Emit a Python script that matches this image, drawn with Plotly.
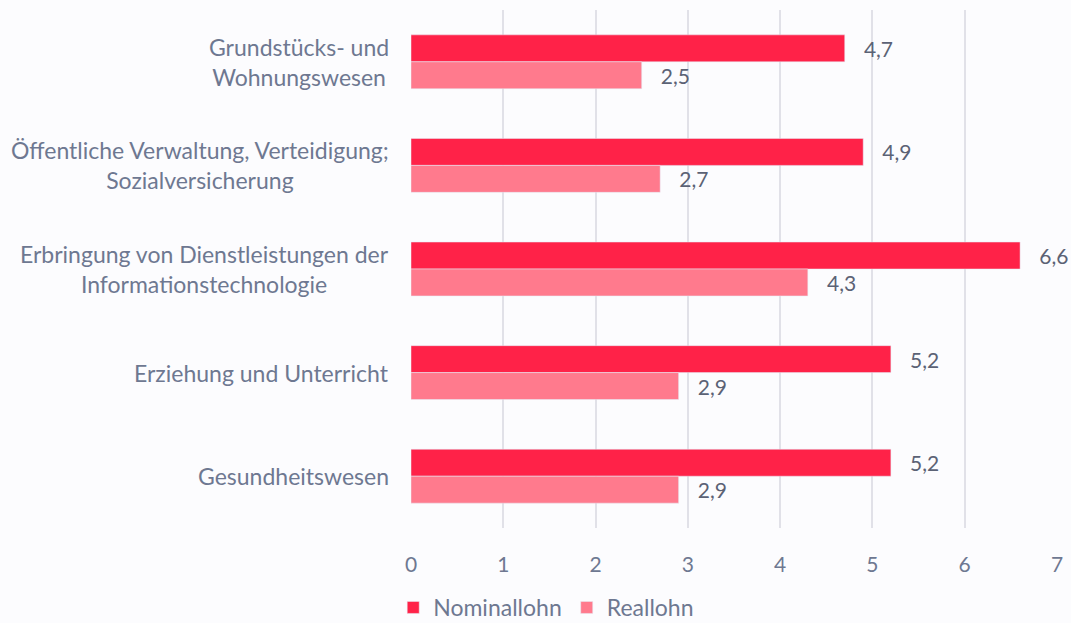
import plotly.graph_objects as go

# Kategorien (von oben nach unten) und Werte
categories = [
    'Grundstücks- und<br>Wohnungswesen',
    'Öffentliche Verwaltung, Verteidigung;<br>Sozialversicherung',
    'Erbringung von Dienstleistungen der<br>Informationstechnologie',
    'Erziehung und Unterricht',
    'Gesundheitswesen',
]
nominallohn = [4.7, 4.9, 6.6, 5.2, 5.2]
reallohn = [2.5, 2.7, 4.3, 2.9, 2.9]
x_ticks = [0, 1, 2, 3, 4, 5, 6, 7]

font_family = 'Lato, Noto Sans, sans-serif'
label_color = '#6E7891'
value_color = '#5B6275'
pad = '\u00a0\u00a0\u00a0'

fig = go.Figure()

fig.add_trace(go.Bar(
    y=categories,
    x=nominallohn,
    orientation='h',
    name='Nominallohn',
    marker=dict(color='#FF2248'),
    texttemplate=pad + '%{x:.1f}',
    textposition='outside',
    textfont=dict(size=21, color=value_color),
    cliponaxis=False,
))

fig.add_trace(go.Bar(
    y=categories,
    x=reallohn,
    orientation='h',
    name='Reallohn',
    marker=dict(color='#FF7A8D'),
    texttemplate=pad + '%{x:.1f}',
    textposition='outside',
    textfont=dict(size=21, color=value_color),
    cliponaxis=False,
))

# Kategorienamen als zentrierte Annotationen
for cat in categories:
    fig.add_annotation(
        x=0, xref='paper', xanchor='right', xshift=-20,
        y=cat, yref='y',
        text=cat, align='center', showarrow=False,
        font=dict(family=font_family, size=23, color=label_color),
    )

# Legende sitzt knapp am unteren Fensterrand -> Figur etwas höher
fig.update_layout(
    width=1071,
    height=629,
    barmode='group',
    bargap=0.48,
    bargroupgap=0,
    separators=',.',
    paper_bgcolor='#FCFCFE',
    plot_bgcolor='#FCFCFE',
    font=dict(family=font_family, size=22, color=label_color),
    margin=dict(l=411, r=14, t=10, b=101),
    xaxis=dict(
        range=[0, 7],
        tickvals=x_ticks,
        showgrid=True,
        gridcolor='#E1E1E8',
        gridwidth=2,
        zeroline=False,
        ticks='',
        ticklabelstandoff=22,
        automargin=False,
        tickfont=dict(size=21, color=label_color),
    ),
    yaxis=dict(
        autorange='reversed',
        showticklabels=False,
        showgrid=False,
    ),
    legend=dict(
        orientation='h',
        xref='container',
        yref='container',
        x=0.51,
        xanchor='center',
        y=0,
        yanchor='bottom',
        font=dict(size=23, color=label_color),
        itemwidth=30,
    ),
)

fig.write_html('out.html', config={'displayModeBar': False},
               post_script="document.body.style.margin='0';"
                           "document.body.style.overflow='hidden';")
